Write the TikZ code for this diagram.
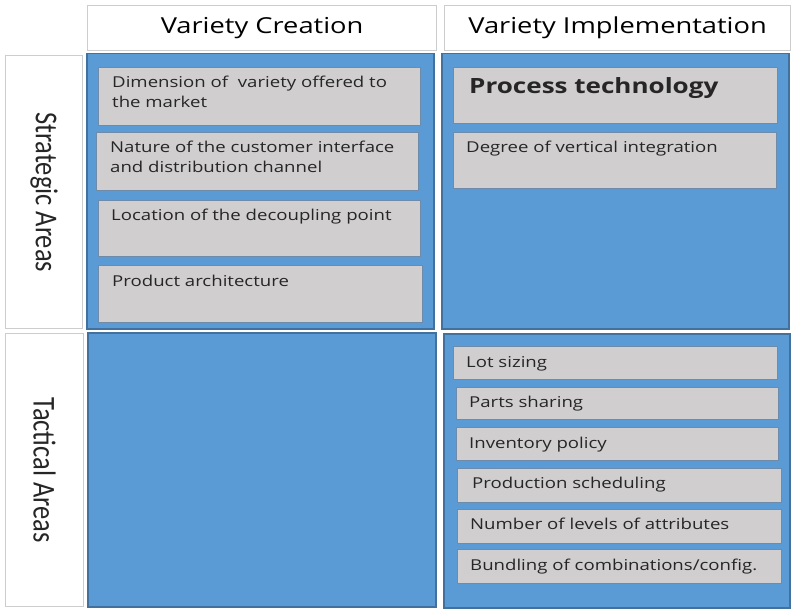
\documentclass[tikz,border=0pt]{standalone}
\usepackage{fontspec}
\setmainfont{Open Sans}[FakeStretch=1.24]
\newfontfamily\rowfont{Carlito}
\definecolor{panelblue}{RGB}{91,155,213}
\definecolor{panelline}{RGB}{65,113,156}
\definecolor{itemgray}{RGB}{208,206,206}
\definecolor{itemline}{RGB}{110,140,170}
\definecolor{headline}{RGB}{205,205,205}
\definecolor{inktext}{RGB}{38,38,38}

\begin{document}
\begin{tikzpicture}[x=1pt, y=-1pt,
    header/.style={draw=headline, fill=white, line width=1.2pt, anchor=north west, inner sep=0pt,
      text=black, font=\fontsize{22}{26}\selectfont},
    rowbox/.style={draw=headline, fill=white, line width=1.2pt, anchor=north west, inner sep=0pt},
    rowtext/.style={rotate=-90, inner sep=0pt, text=inktext, font=\rowfont\fontsize{26.5}{30}\selectfont},
    panel/.style={draw=panelline, fill=panelblue, line width=1.5pt, anchor=north west, inner sep=0pt},
    item/.style={draw=itemline, fill=itemgray, line width=1pt, anchor=north west, inner sep=0pt},
    itemtext/.style={anchor=base west, inner sep=0pt, align=left, text=inktext,
      font=\fontsize{15}{19.5}\selectfont}]
    \path[use as bounding box, fill=white] (0,0) rectangle (791,609);

    % Column headers
    \node[header, minimum width=349pt, minimum height=45pt] (creHead) at (87,5) {Variety Creation};
    \node[header, minimum width=346pt, minimum height=45pt] (impHead) at (444,5) {Variety Implementation};

    % Row headers
    \node[rowbox, minimum width=77pt, minimum height=273pt] (stratLab) at (5,55) {};
    \node[rowtext] (stratText) at (stratLab.center) {\scalebox{1}[1.2]{Strategic Areas}};
    \node[rowbox, minimum width=78pt, minimum height=273pt] (tactLab) at (5,333) {};
    \node[rowtext] (tactText) at (tactLab.center) {\scalebox{1}[1.2]{Tactical Areas}};

    % Blue panels
    \node[panel, minimum width=347pt, minimum height=275pt] (stratCre) at (86,53) {};
    \node[panel, minimum width=347pt, minimum height=275pt] (stratImp) at (441,53) {};
    \node[panel, minimum width=348pt, minimum height=274pt] (tactCre) at (87,332) {};
    \node[panel, minimum width=346pt, minimum height=274pt] (tactImp) at (443,333) {};

    % Strategic areas / variety creation
    \node[item, minimum width=322pt, minimum height=58pt] (dim) at (98,67) {};
    \node[itemtext] (dimText) at ([xshift=14pt, yshift=-40.5pt]dim.north west) {Dimension of\ \ variety offered to\\the market};
    \node[item, minimum width=322pt, minimum height=58pt] (nature) at (96,132) {};
    \node[itemtext] (natureText) at ([xshift=14pt, yshift=-40.5pt]nature.north west) {Nature of the customer interface\\and distribution channel};
    \node[item, minimum width=322pt, minimum height=56pt] (location) at (98,200) {};
    \node[itemtext] (locationText) at ([xshift=13pt, yshift=-21pt]location.north west) {Location of the decoupling point};
    \node[item, minimum width=324pt, minimum height=57pt] (product) at (98,265) {};
    \node[itemtext] (productText) at ([xshift=14pt, yshift=-21pt]product.north west) {Product architecture};

    % Strategic areas / variety implementation
    \node[item, minimum width=324pt, minimum height=56pt] (process) at (453,67) {};
    \node[itemtext, font=\bfseries\fontsize{21}{25}\selectfont] (processText) at ([xshift=16pt, yshift=-27pt]process.north west) {Process technology};
    \node[item, minimum width=323pt, minimum height=56pt] (degree) at (453,132) {};
    \node[itemtext] (degreeText) at ([xshift=13pt, yshift=-21pt]degree.north west) {Degree of vertical integration};

    % Tactical areas / variety implementation
    \node[item, minimum width=324pt, minimum height=33pt] (lot) at (453,346) {};
    \node[itemtext] (lotText) at ([xshift=13pt, yshift=-21pt]lot.north west) {Lot sizing};
    \node[item, minimum width=322pt, minimum height=32pt] (parts) at (456,387) {};
    \node[itemtext] (partsText) at ([xshift=13pt, yshift=-20pt]parts.north west) {Parts sharing};
    \node[item, minimum width=322pt, minimum height=33pt] (inventory) at (456,427) {};
    \node[itemtext] (inventoryText) at ([xshift=13pt, yshift=-21pt]inventory.north west) {Inventory policy};
    \node[item, minimum width=324pt, minimum height=34pt] (production) at (457,468) {};
    \node[itemtext] (productionText) at ([xshift=15pt, yshift=-20pt]production.north west) {Production scheduling};
    \node[item, minimum width=324pt, minimum height=34pt] (levels) at (457,509) {};
    \node[itemtext] (levelsText) at ([xshift=13pt, yshift=-20pt]levels.north west) {Number of levels of attributes};
    \node[item, minimum width=324pt, minimum height=34pt] (bundling) at (457,549) {};
    \node[itemtext] (bundlingText) at ([xshift=13pt, yshift=-21pt]bundling.north west) {Bundling of combinations/config.};
\end{tikzpicture}
\end{document}
